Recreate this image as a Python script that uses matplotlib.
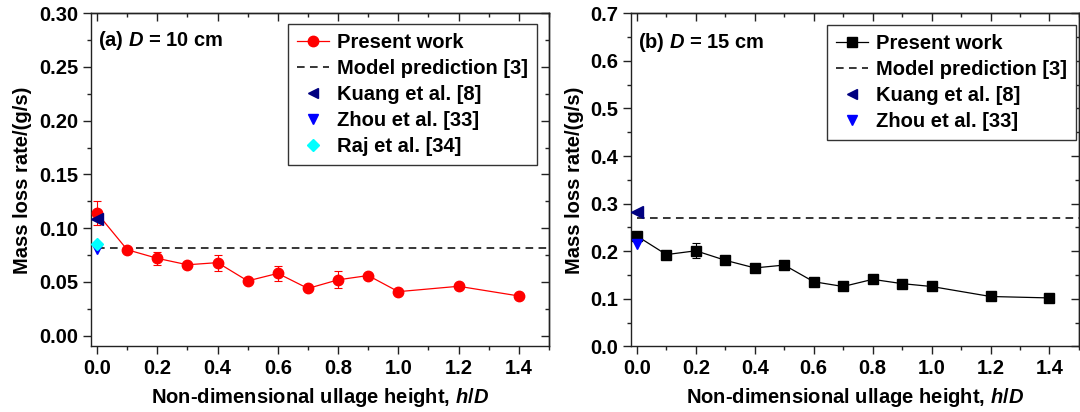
import matplotlib
matplotlib.use("Agg")
import matplotlib.pyplot as plt
from matplotlib.lines import Line2D
from matplotlib.ticker import MultipleLocator, FormatStrFormatter

plt.rcParams["font.family"] = ["Liberation Sans", "DejaVu Sans"]
plt.rcParams["font.weight"] = "bold"
plt.rcParams["axes.labelweight"] = "bold"
plt.rcParams["font.size"] = 14.5
plt.rcParams["mathtext.fontset"] = "custom"
plt.rcParams["mathtext.rm"] = "Liberation Sans:bold"
plt.rcParams["mathtext.it"] = "Liberation Sans:italic:bold"

# ---- data: panel (a) D = 10 cm
h_a = [0.0, 0.1, 0.2, 0.3, 0.4, 0.5, 0.6, 0.7, 0.8, 0.9, 1.0, 1.2, 1.4]
mlr_a = [0.114, 0.080, 0.072, 0.066, 0.068, 0.051, 0.058, 0.044, 0.052, 0.056, 0.041, 0.046, 0.037]
err_a = [0.011, 0.002, 0.006, 0.002, 0.0075, 0.002, 0.0067, 0.002, 0.008, 0.002, 0.002, 0.002, 0.002]
model_a = 0.082
kuang_a = 0.109
zhou_a = 0.081
raj_a = 0.085

# ---- data: panel (b) D = 15 cm
h_b = [0.0, 0.1, 0.2, 0.3, 0.4, 0.5, 0.6, 0.7, 0.8, 0.9, 1.0, 1.2, 1.4]
mlr_b = [0.232, 0.193, 0.201, 0.181, 0.165, 0.171, 0.136, 0.126, 0.141, 0.132, 0.126, 0.105, 0.102]
err_b = [0.006, 0.004, 0.016, 0.004, 0.004, 0.004, 0.004, 0.004, 0.006, 0.004, 0.004, 0.004, 0.004]
model_b = 0.270
kuang_b = 0.282
zhou_b = 0.215

XLIM = (-0.02, 1.5)
DASH = (0, (5, 3.5))
SPINE = "#222222"


def style_axes(ax, ymajor, yminor, yfmt):
    ax.set_xlim(*XLIM)
    ax.xaxis.set_major_locator(MultipleLocator(0.2))
    ax.xaxis.set_minor_locator(MultipleLocator(0.1))
    ax.yaxis.set_major_locator(MultipleLocator(ymajor))
    ax.yaxis.set_minor_locator(MultipleLocator(yminor))
    ax.xaxis.set_major_formatter(FormatStrFormatter("%.1f"))
    ax.yaxis.set_major_formatter(FormatStrFormatter(yfmt))
    ax.tick_params(which="both", direction="out", width=1.0, color=SPINE)
    ax.tick_params(which="major", length=6, pad=3)
    ax.tick_params(which="minor", length=3.2)
    for s in ax.spines.values():
        s.set_linewidth(1.0)
        s.set_color(SPINE)

    # inward ticks on top and right, no labels
    top = ax.secondary_xaxis("top")
    top.xaxis.set_major_locator(MultipleLocator(0.2))
    top.xaxis.set_minor_locator(MultipleLocator(0.1))
    top.tick_params(which="both", direction="in", width=1.0, color=SPINE, labeltop=False)
    top.tick_params(which="major", length=6)
    top.tick_params(which="minor", length=3.2)
    right = ax.secondary_yaxis("right")
    right.yaxis.set_major_locator(MultipleLocator(ymajor))
    right.yaxis.set_minor_locator(MultipleLocator(yminor))
    right.tick_params(which="both", direction="in", width=1.0, color=SPINE, labelright=False)
    right.tick_params(which="major", length=6)
    right.tick_params(which="minor", length=3.2)
    for sec in (top, right):
        for s in sec.spines.values():
            s.set_linewidth(1.0)
            s.set_color(SPINE)

    ax.set_xlabel("Non-dimensional ullage height, $h$/$D$", labelpad=6)
    ax.set_ylabel("Mass loss rate/(g/s)", labelpad=5)


def add_legend(ax, handles, anchor):
    leg = ax.legend(handles=handles, loc="upper left", bbox_to_anchor=anchor,
                    fancybox=False, framealpha=1, edgecolor="#333333",
                    handlelength=1.6, handletextpad=0.4, labelspacing=0.35,
                    borderpad=0.45, borderaxespad=0)
    leg.get_frame().set_linewidth(1.0)
    return leg


fig = plt.figure(figsize=(10.8, 4.12), dpi=100)
ax1 = fig.add_axes([0.0843, 0.159, 0.4240, 0.809])
ax2 = fig.add_axes([0.5843, 0.159, 0.4147, 0.809])

# ---- panel (a)
ax1.errorbar(h_a, mlr_a, yerr=err_a, color="red", marker="o", markersize=7.5,
             linewidth=0.9, elinewidth=0.8, capsize=3, capthick=0.8, zorder=3)
ax1.plot([0.0, XLIM[1]], [model_a, model_a], color="black", linestyle=DASH,
         linewidth=1.1, zorder=2)
ax1.plot([0.0], [kuang_a], linestyle="none", marker="<", color="#000080",
         markersize=8, zorder=5)
ax1.plot([0.0], [zhou_a], linestyle="none", marker="v", color="#0000FF",
         markersize=7.5, zorder=4)
ax1.plot([0.0], [raj_a], linestyle="none", marker="D", color="#00FFFF",
         markersize=6.5, zorder=4)
ax1.set_ylim(-0.01, 0.30)
style_axes(ax1, 0.05, 0.025, "%.2f")
ax1.text(0.015, 0.917, "(a) $D$ = 10 cm", transform=ax1.transAxes,
         ha="left", va="center")
add_legend(ax1, [
    Line2D([], [], color="red", marker="o", markersize=7.5, linewidth=0.9, label="Present work"),
    Line2D([], [], color="black", linestyle=DASH, linewidth=1.1, label="Model prediction [3]"),
    Line2D([], [], color="#000080", marker="<", markersize=7.5, linestyle="none", label="Kuang et al. [8]"),
    Line2D([], [], color="#0000FF", marker="v", markersize=7.5, linestyle="none", label="Zhou et al. [33]"),
    Line2D([], [], color="#00FFFF", marker="D", markersize=6.5, linestyle="none", label="Raj et al. [34]"),
], (0.430, 0.968))

# ---- panel (b)
ax2.errorbar(h_b, mlr_b, yerr=err_b, color="black", marker="s", markersize=6.5,
             linewidth=0.9, elinewidth=0.8, capsize=3, capthick=0.8, zorder=3)
ax2.plot([0.0, XLIM[1]], [model_b, model_b], color="black", linestyle=DASH,
         linewidth=1.1, zorder=2)
ax2.plot([0.0], [kuang_b], linestyle="none", marker="<", color="#000080",
         markersize=8, zorder=5)
ax2.plot([0.0], [zhou_b], linestyle="none", marker="v", color="#0000FF",
         markersize=7.5, zorder=5)
ax2.set_ylim(0.0, 0.7)
style_axes(ax2, 0.1, 0.05, "%.1f")
ax2.text(0.016, 0.913, "(b) $D$ = 15 cm", transform=ax2.transAxes,
         ha="left", va="center")
add_legend(ax2, [
    Line2D([], [], color="black", marker="s", markersize=6.5, linewidth=0.9, label="Present work"),
    Line2D([], [], color="black", linestyle=DASH, linewidth=1.1, label="Model prediction [3]"),
    Line2D([], [], color="#000080", marker="<", markersize=7.5, linestyle="none", label="Kuang et al. [8]"),
    Line2D([], [], color="#0000FF", marker="v", markersize=7.5, linestyle="none", label="Zhou et al. [33]"),
], (0.437, 0.964))

fig.savefig("out.png", dpi=100)
